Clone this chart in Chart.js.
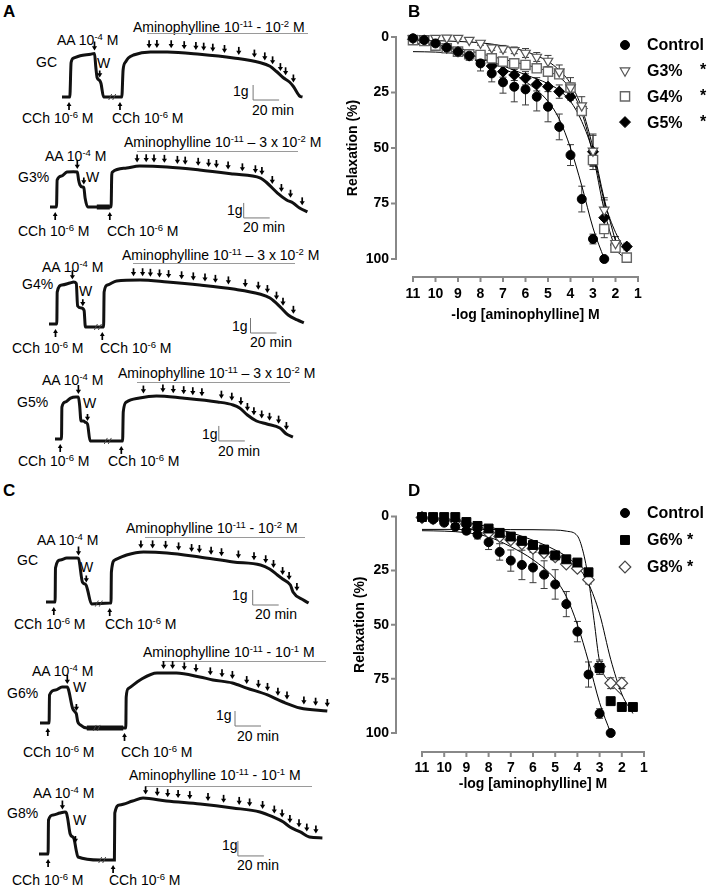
<!DOCTYPE html>
<html lang="en">
<head>
<meta charset="UTF-8" />
<title>Aminophylline relaxation</title>
<script src="https://cdn.jsdelivr.net/npm/chart.js"></script>
<style>
  body { margin:0; width:708px; height:888px; position:relative; background:#fff; overflow:hidden;
         font-family:"Liberation Sans", Arial, sans-serif; color:#000; }
  .t { position:absolute; white-space:nowrap; line-height:1; font-size:14px; }
  .t sup { font-size:0.68em; vertical-align:0; position:relative; top:-0.5em; }
  .big { font-weight:bold; font-size:17px; }
  .bar { position:absolute; height:0; border-top:1px solid #9a9a9a; }
  canvas { position:absolute; }
</style>
</head>
<body>
<canvas id="chartB" width="368" height="330" style="left:340px;top:0"></canvas>
<canvas id="chartD" width="368" height="330" style="left:340px;top:475px"></canvas>

<script>
// ---------- dose-response data (-log M, % relaxation, SEM) ----------
const doseLog = [11, 10.5, 10, 9.5, 9, 8.5, 8, 7.5, 7, 6.5, 6, 5.5, 5, 4.5, 4, 3.5, 3, 2.5, 2, 1.5];

const controlRelax = [0.6, 1.4, 2.9, 4.8, 6.6, 8.4, 11.9, 16.4, 20.4, 22.4, 23.6, 26.9, 31.4, 40.5, 53.2, 73, 91, 100];
const controlSem   = [0.5, 0.8, 1, 1.2, 1.5, 2, 3.4, 3.8, 4.9, 6.8, 7, 6.4, 6.8, 5.8, 4.7, 5.8, 2.2, 0.5];

const g3Relax = [0.6, 0.6, 0.5, 0.4, 0.5, 1.4, 2.7, 4.8, 5.3, 6, 7.2, 9, 10.8, 15.6, 22.8, 30.9, 51.3, 77.9, 92.9];
const g3Sem   = [0.5, 0.5, 0.5, 0.5, 0.5, 0.8, 1, 1.2, 1.5, 1.5, 2, 2, 2.5, 3, 4.5, 4, 7, 4.5, 3];
const g4Relax = [1.4, 1.8, 3.9, 5.1, 6.6, 7.8, 8.1, 9.6, 11.1, 11.9, 12.6, 14.1, 15.6, 16.8, 22.8, 33.3, 55.4, 86.5, 94.9, 99.4];
const g4Sem   = [0.5, 0.5, 0.8, 1, 1, 1, 1, 1, 1, 1, 1.2, 1.5, 1.5, 1.5, 2, 2, 2.5, 2, 2, 1];
const g5Relax = [1, 1.5, 2.9, 5, 6.6, 8.4, 10.4, 13.1, 15.6, 17.1, 18.6, 21.3, 22.4, 24.6, 26.9, 32.1, 51.7, 81.4, 93.7, 94.4];
const g5Sem   = [0.5, 0.5, 0.8, 1, 1.5, 2, 2.5, 2.5, 2.5, 2.5, 3, 3, 9, 3, 1.5, 1.5, 8, 9, 2, 1.5];

const g6Relax = [0.3, 0.3, 0.3, 0.3, 2.6, 4.4, 5.6, 7.6, 9.3, 11.3, 13.2, 15.3, 18, 19.8, 21.3, 25.8, 70, 85.3, 88, 88];
const g6Sem   = [0.5, 0.5, 0.5, 0.5, 0.8, 0.8, 1, 1, 1, 1, 1, 1, 1, 1, 1, 1.5, 3, 1.5, 1, 1];
const g8Relax = [0.5, 1, 1.5, 2, 3.5, 5.5, 7.5, 9.3, 10.8, 12.7, 14.8, 16.8, 18.7, 22, 24, 29.2, 69.3, 77, 77];
const g8Sem   = [0.5, 0.5, 0.5, 0.5, 0.5, 0.5, 1, 1, 1, 1, 1, 1, 1, 1, 1, 2, 3, 2.5, 2.5];

// fitted curves
const fitCtlX = [11, 10, 9, 8, 7, 6, 5, 4.5, 4, 3.5, 3, 2.5];
const fitCtlY = [6.6, 6.8, 7.5, 9.5, 14, 20, 29, 37, 50, 67, 86, 100];
const fitG3X = [11, 10, 9, 8, 7, 6, 5, 4.5, 4, 3.5, 3, 2.5, 2];
const fitG3Y = [1.5, 1.6, 2, 2.6, 4, 6.5, 11, 15, 21, 32, 50, 73, 92];
const fitG4X = [11, 10, 9, 8, 7, 6, 5, 4.5, 4, 3.5, 3, 2.5, 2, 1.5];
const fitG4Y = [3, 3.5, 5, 7.5, 10, 12.5, 15.5, 18, 23.5, 34, 53, 78, 95, 100];
const fitG5X = [11, 10, 9, 8, 7, 6, 5, 4.5, 4, 3.5, 3, 2.5, 2, 1.5];
const fitG5Y = [3, 4, 6, 9.5, 13, 17, 21, 24, 29, 38, 52, 74, 88, 97];
const fitG6X = [11, 10, 9, 8, 7, 6, 5, 4.5, 4, 3.5, 3, 2.5, 2, 1.5];
const fitG6Y = [0.5, 1.5, 2.8, 4.8, 7.5, 11, 15.5, 18.5, 23, 31, 45, 66, 82, 91];
const fitG8X = [11, 9, 7, 5, 4.5, 4, 3.75, 3.5, 3.25, 3, 2.5, 2];
const fitG8Y = [6, 6, 6.1, 6.3, 6.8, 9, 16, 29, 48, 67, 77, 82.5];

// ---------- isometric tension recordings (time in min, tension in g) ----------
const aGcTime    = [0, 6, 7, 9, 14, 22, 25, 26, 27, 29, 30, 32, 37, 45, 46, 47, 49, 51, 55, 68, 81, 106, 132, 152, 160, 165, 170, 175, 178, 183, 185];
const aGcTension = [0, 0, 2.3, 2.6, 2.75, 2.85, 2.9, 2.0, 1.3, 1.1, 0.9, 0, 0, 0, 0, 1.8, 2.35, 2.6, 2.8, 3.0, 3.0, 2.85, 2.6, 2.3, 2.05, 1.7, 1.3, 1.0, 0.7, 0.05, 0];
const aGcDoses   = [67, 73, 84, 94, 103, 109, 116, 125, 136, 148, 156, 162, 168, 172, 178];

const aG3Time    = [0, 5, 5.5, 9, 13, 18, 21, 22, 23, 25, 26, 27, 29, 33, 46, 47, 47.5, 48, 59, 69, 90, 115, 141, 162, 167, 175, 182, 187, 192, 198];
const aG3Tension = [0, 0, 1.8, 2.07, 2.33, 2.35, 2.33, 1.8, 1.47, 1.33, 1.3, 0.6, 0, 0, 0, 0, 2.13, 2.33, 2.6, 2.73, 2.67, 2.47, 2.2, 1.93, 1.6, 0.93, 0.47, 0.27, -0.07, -0.33];
const aG3Doses   = [67, 74, 80, 88, 98, 104, 114, 122, 128, 137, 148, 158, 163, 171, 178, 185, 194];

const aG4Time    = [0, 6, 6.3, 10, 16, 19, 21, 22, 25, 27, 28, 37, 42, 42.4, 45, 52, 70, 91, 116, 142, 162, 170, 178, 184, 191, 196];
const aG4Tension = [0, 0, 2.13, 2.6, 2.73, 2.8, 2.7, 1.2, 1.07, 0.9, -0.2, -0.2, -0.2, 2.13, 2.6, 2.87, 2.93, 2.8, 2.6, 2.33, 2.0, 1.73, 1.13, 0.6, 0.27, 0.07];
const aG4Doses   = [65, 72, 78, 85, 92, 102, 111, 120, 128, 138, 151, 161, 168, 175, 180, 188];

const aG5Time    = [0, 5, 5.3, 8, 12, 16, 18, 19, 20, 22, 23, 25, 27, 51, 52, 52.5, 55, 65, 78, 98, 125, 137, 142, 148, 155, 163, 173, 178, 183];
const aG5Tension = [0, 0, 2.13, 2.47, 2.73, 2.8, 2.8, 2.2, 1.2, 1.2, 1.13, 1.0, -0.13, -0.13, -0.13, 1.8, 2.47, 2.73, 2.87, 2.73, 2.47, 2.27, 2.07, 1.6, 1.2, 1.0, 0.73, 0.33, 0.13];
const aG5Doses   = [68, 83, 91, 99, 106, 113, 128, 136, 143, 148, 153, 159, 165, 172, 178];

const cGcTime    = [0, 7, 7.3, 11, 16, 24, 25, 28, 30, 31, 32, 35, 49, 50, 50.3, 53, 62, 75, 93, 118, 144, 165, 172, 178, 182, 188, 190, 198, 202];
const cGcTension = [0, 0, 2.27, 2.8, 2.93, 2.93, 2.9, 1.33, 1.2, 1.1, 0.8, -0.13, -0.07, -0.07, 2.0, 2.8, 3.13, 3.33, 3.27, 3.0, 2.67, 2.47, 2.2, 1.8, 1.53, 1.13, 0.67, 0.13, -0.07];
const cGcDoses   = [73, 82, 92, 102, 112, 118, 127, 135, 148, 160, 169, 175, 182, 187, 193];

const cG6Time    = [0, 7, 7.3, 12, 17, 21, 22, 25, 27, 28, 29, 31, 36, 66, 66.3, 68, 77, 90, 105, 123, 133, 148, 159, 175, 187, 200, 221];
const cG6Tension = [0, 0, 1.87, 2.2, 2.4, 2.4, 2.2, 1.0, 0.73, 0.6, 0.1, -0.13, -0.33, -0.33, 1.73, 2.3, 2.87, 3.33, 3.33, 3.07, 2.87, 2.67, 2.33, 1.87, 1.4, 1.0, 0.8];
const cG6Doses   = [95, 102, 111, 120, 131, 140, 148, 159, 168, 175, 183, 190, 203, 212, 221];

const cG8Time    = [0, 7, 7.3, 11, 16, 20, 21, 22, 24, 26, 27, 28.5, 30, 47, 57, 58, 58.3, 62, 72, 80, 98, 124, 149, 170, 180, 188, 193, 201, 208, 218];
const cG8Tension = [0, 0, 2.27, 2.6, 2.73, 2.8, 2.75, 2.4, 1.33, 1.13, 1.0, 0.3, -0.2, -0.4, -0.4, -0.4, 2.73, 3.27, 3.53, 3.73, 3.53, 3.33, 3.07, 2.8, 2.47, 2.13, 1.8, 1.47, 1.13, 1.07];
const cG8Doses   = [82, 91, 99, 107, 116, 130, 142, 154, 162, 172, 181, 187, 193, 200, 206, 213];

// ---------- layout ----------
const PX_MIN = 1.3;   // px per minute
const PX_G = 15;      // px per gram
const FONT = '"Liberation Sans", Arial, sans-serif';

const traces = [
  { t: aGcTime, g: aGcTension, doses: aGcDoses, x0: 62, yb: 97,  cch: [5.4, 44.6], aa: 25, w: 29, brk: 39, bar: [147, -0.2] },
  { t: aG3Time, g: aG3Tension, doses: aG3Doses, x0: 50, yb: 207, cch: [4, 46], aa: 21, w: 26, noise: [36, 46], bar: [149, -0.73] },
  { t: aG4Time, g: aG4Tension, doses: aG4Doses, x0: 49, yb: 324, cch: [5, 41], aa: 18, w: 26, brk: 38, bar: [155, -0.6] },
  { t: aG5Time, g: aG5Tension, doses: aG5Doses, x0: 55, yb: 439, cch: [4, 51], aa: 18, w: 25, brk: 41, bar: [126, -0.13] },
  { t: cGcTime, g: cGcTension, doses: cGcDoses, x0: 46, yb: 602, cch: [6, 49], aa: 25, w: 31, brk: 41, bar: [159, -0.2] },
  { t: cG6Time, g: cG6Tension, doses: cG6Doses, x0: 40, yb: 723, cch: [6, 65], aa: 21, w: 28, noise: [36, 64], brk: 44, bar: [150, -0.2] },
  { t: cG8Time, g: cG8Tension, doses: cG8Doses, x0: 39, yb: 854, cch: [7, 57], aa: 18, w: 28, brk: 49, bar: [153, -0.13] }
];

const amino2 = 'Aminophylline 10<sup>-11</sup> - 10<sup>-2</sup> M';
const amino3 = 'Aminophylline 10<sup>-11</sup> \u2013 3 x 10<sup>-2</sup> M';
const amino1 = 'Aminophylline 10<sup>-11</sup> - 10<sup>-1</sup> M';
const aa = 'AA 10<sup>-4</sup> M';
const cch = 'CCh 10<sup>-6</sup> M';

const labels = [
  ['A', 3, 11, 'big'], [amino2, 133, 27], [aa, 57, 40], ['GC', 36, 62], ['W', 97, 63],
  [cch, 22, 118], [cch, 112, 118], ['1g', 233, 91], ['20 min', 252, 110],
  [amino3, 124, 142], [aa, 45, 156], ['G3%', 18, 177], ['W', 86, 177],
  ['1g', 227, 210], ['20 min', 243, 227], [cch, 18, 231], [cch, 107, 231],
  [amino3, 122, 255], [aa, 42, 267], ['G4%', 22, 284], ['W', 79, 291],
  ['1g', 232, 326], ['20 min', 250, 342], [cch, 12, 348], [cch, 100, 348],
  [amino3, 118, 373], [aa, 42, 380], ['G5%', 17, 402], ['W', 83, 403],
  ['1g', 202, 434], ['20 min', 218, 451], [cch, 18, 461], [cch, 108, 461],
  ['C', 3, 490, 'big'], [amino2, 126, 528], [aa, 37, 540], ['GC', 17, 560], ['W', 80, 567],
  ['1g', 232, 595], ['20 min', 255, 614], [cch, 14, 624], [cch, 105, 624],
  [amino1, 143, 652], [aa, 32, 671], ['G6%', 7, 693], ['W', 73, 687],
  ['1g', 216, 715], ['20 min', 237, 736], [cch, 23, 752], [cch, 121, 752],
  [amino1, 129, 775], [aa, 33, 793], ['G8%', 7, 813], ['W', 73, 820],
  ['1g', 222, 845], ['20 min', 237, 865], [cch, 12, 880], [cch, 109, 880],
  ['B', 408, 11, 'big'], ['D', 408, 490, 'big']
];
// grey lines under the aminophylline labels: [left, right, top]
const doseLines = [[147, 308, 33], [137, 298, 151], [133, 295, 263], [137, 290, 382],
                   [145, 305, 537], [162, 326, 661], [145, 312, 786]];

labels.forEach(([html, x, cy, cls]) => {
  const d = document.createElement('div');
  d.className = 't' + (cls ? ' ' + cls : '');
  const size = cls === 'big' ? 17 : 14;
  d.style.left = x + 'px';
  d.style.top = (cy - 0.49 * size) + 'px';
  d.innerHTML = html;
  document.body.appendChild(d);
});
doseLines.forEach(([l, r, top]) => {
  const d = document.createElement('div');
  d.className = 'bar';
  d.style.left = l + 'px'; d.style.width = (r - l) + 'px'; d.style.top = top + 'px';
  document.body.appendChild(d);
});

// ---------- helpers ----------
function pts(xs, ys) { return ys.map((v, i) => ({ x: xs[i], y: v })); }

function interp(ts, gs, t) {
  for (let i = 1; i < ts.length; i++) {
    if (t <= ts[i]) {
      const f = (t - ts[i - 1]) / (ts[i] - ts[i - 1] || 1);
      return gs[i - 1] + f * (gs[i] - gs[i - 1]);
    }
  }
  return gs[gs.length - 1];
}

// small bold arrows as in the recordings
function arrowDown(ctx, x, tip, len) {
  ctx.beginPath(); ctx.moveTo(x, tip - len); ctx.lineTo(x, tip - 3); ctx.stroke();
  ctx.beginPath(); ctx.moveTo(x - 2.6, tip - 4.2); ctx.lineTo(x + 2.6, tip - 4.2); ctx.lineTo(x, tip); ctx.closePath(); ctx.fill();
}
function arrowUp(ctx, x, tip, len) {
  ctx.beginPath(); ctx.moveTo(x, tip + len); ctx.lineTo(x, tip + 3); ctx.stroke();
  ctx.beginPath(); ctx.moveTo(x - 2.4, tip + 4); ctx.lineTo(x + 2.4, tip + 4); ctx.lineTo(x, tip); ctx.closePath(); ctx.fill();
}

function drawTraceMarks(chart, tr) {
  const { ctx, scales: { x, y } } = chart;
  const X = t => x.getPixelForValue(t);
  const Y = g => y.getPixelForValue(g);
  const lev = t => Y(interp(tr.t, tr.g, t));
  ctx.save();
  ctx.fillStyle = '#000'; ctx.strokeStyle = '#000'; ctx.lineWidth = 1.7;
  tr.doses.forEach(t => arrowDown(ctx, X(t), lev(t) - 4, 8));
  arrowDown(ctx, X(tr.aa), lev(tr.aa) - 3, 9);
  arrowDown(ctx, X(tr.w), lev(tr.w) - 3, 7);
  tr.cch.forEach(t => arrowUp(ctx, X(t), lev(t) + 5, 8));
  if (tr.noise) {
    ctx.save(); ctx.lineWidth = 5; ctx.strokeStyle = '#111';
    ctx.beginPath(); ctx.moveTo(X(tr.noise[0]), lev(tr.noise[0])); ctx.lineTo(X(tr.noise[1]), lev(tr.noise[1])); ctx.stroke();
    ctx.restore();
  }
  if (tr.brk != null) {
    const bx = X(tr.brk), by = lev(tr.brk);
    ctx.save(); ctx.lineWidth = 1; ctx.strokeStyle = '#444';
    ctx.beginPath();
    ctx.moveTo(bx - 4, by + 3); ctx.lineTo(bx - 1, by - 3);
    ctx.moveTo(bx, by + 3); ctx.lineTo(bx + 3, by - 3);
    ctx.stroke(); ctx.restore();
  }
  const [st, sg] = tr.bar;
  ctx.strokeStyle = '#777'; ctx.lineWidth = 1;
  ctx.beginPath();
  ctx.moveTo(X(st), Y(sg + 1)); ctx.lineTo(X(st), Y(sg)); ctx.lineTo(X(st + 20), Y(sg));
  ctx.stroke();
  ctx.restore();
}

function makeTrace(tr) {
  const c = document.createElement('canvas');
  c.width = 310; c.height = 95;
  c.style.left = (tr.x0 - 10) + 'px';
  c.style.top = (tr.yb - 70) + 'px';
  document.body.appendChild(c);
  new Chart(c, {
    type: 'line',
    data: { datasets: [{ data: pts(tr.t, tr.g), borderColor: '#111', borderWidth: 3, pointRadius: 0,
                         cubicInterpolationMode: 'monotone', clip: false }] },
    options: {
      responsive: false, animation: false, events: [],
      layout: { padding: 0 },
      plugins: { legend: { display: false }, tooltip: { enabled: false } },
      scales: {
        x: { type: 'linear', display: false, min: -10 / PX_MIN, max: 300 / PX_MIN },
        y: { type: 'linear', display: false, min: -25 / PX_G, max: 70 / PX_G }
      }
    },
    plugins: [{ id: 'traceMarks', afterDatasetsDraw(chart) { drawTraceMarks(chart, tr); } }]
  });
}
traces.forEach(makeTrace);

// ---------- dose-response charts ----------
function drawMarker(ctx, m, x, y) {
  ctx.save();
  ctx.fillStyle = m.fill; ctx.strokeStyle = m.stroke; ctx.lineWidth = m.lw;
  ctx.beginPath();
  const r = m.r;
  if (m.shape === 'circle') ctx.arc(x, y, r, 0, Math.PI * 2);
  else if (m.shape === 'triDown') { ctx.moveTo(x, y + r); ctx.lineTo(x - 0.866 * r, y - 0.5 * r); ctx.lineTo(x + 0.866 * r, y - 0.5 * r); ctx.closePath(); }
  else if (m.shape === 'square') { const s = r * Math.SQRT1_2; ctx.rect(x - s, y - s, 2 * s, 2 * s); }
  else { ctx.moveTo(x, y - r); ctx.lineTo(x + r, y); ctx.lineTo(x, y + r); ctx.lineTo(x - r, y); ctx.closePath(); }
  ctx.fill(); ctx.stroke();
  ctx.restore();
}

const mControl = { shape: 'circle', r: 4.5, fill: '#000', stroke: '#000', lw: 1 };
const mG3 = { shape: 'triDown', r: 5.5, fill: '#fff', stroke: '#555', lw: 1.2 };
const mG4 = { shape: 'square', r: 6.5, fill: '#fff', stroke: '#666', lw: 1.4 };
const mG5 = { shape: 'diamond', r: 5.5, fill: '#000', stroke: '#000', lw: 1 };
const mG6 = { shape: 'square', r: 6.3, fill: '#000', stroke: '#000', lw: 1 };
const mG8 = { shape: 'diamond', r: 5.8, fill: '#fff', stroke: '#444', lw: 1.2 };
const styleMap = { circle: 'circle', triDown: 'triangle', square: 'rect', diamond: 'rectRot' };

function markerSet(vals, sem, m) {
  return {
    data: pts(doseLog, vals), sem, showLine: false, clip: false, order: 1,
    pointStyle: styleMap[m.shape], pointRotation: m.shape === 'triDown' ? 180 : 0,
    pointRadius: m.r, pointBackgroundColor: m.fill, pointBorderColor: m.stroke, pointBorderWidth: m.lw
  };
}
function fitSet(xs, ys) {
  return { data: pts(xs, ys), showLine: true, pointRadius: 0, borderColor: '#000', borderWidth: 1,
           cubicInterpolationMode: 'monotone', clip: false, order: 5 };
}

const errorBars = {
  id: 'errorBars',
  beforeDatasetsDraw(chart) {
    const { ctx, scales: { x, y } } = chart;
    ctx.save(); ctx.strokeStyle = '#3a3a3a'; ctx.lineWidth = 1;
    chart.data.datasets.forEach(ds => {
      if (!ds.sem) return;
      ds.data.forEach((p, i) => {
        const e = ds.sem[i];
        if (!e) return;
        const px = x.getPixelForValue(p.x), y1 = y.getPixelForValue(p.y - e), y2 = y.getPixelForValue(p.y + e);
        ctx.beginPath();
        ctx.moveTo(px, y1); ctx.lineTo(px, y2);
        ctx.moveTo(px - 3.5, y1); ctx.lineTo(px + 3.5, y1);
        ctx.moveTo(px - 3.5, y2); ctx.lineTo(px + 3.5, y2);
        ctx.stroke();
      });
    });
    ctx.restore();
  }
};

function offsetAxes(gapX, gapY) {
  return {
    id: 'offsetAxes',
    afterDraw(chart) {
      const { ctx, chartArea: a, scales: { x, y } } = chart;
      const ax = a.left - gapX, ay = a.bottom + gapY;
      ctx.save(); ctx.strokeStyle = '#888'; ctx.lineWidth = 2;
      ctx.beginPath();
      ctx.moveTo(ax, y.getPixelForValue(0) - 1); ctx.lineTo(ax, y.getPixelForValue(100) + 1);
      y.ticks.forEach(t => { const py = y.getPixelForValue(t.value); ctx.moveTo(ax, py); ctx.lineTo(ax - 5, py); });
      ctx.moveTo(x.getPixelForValue(11) - 1, ay); ctx.lineTo(x.getPixelForValue(1) + 1, ay);
      x.ticks.forEach(t => { const px = x.getPixelForValue(t.value); ctx.moveTo(px, ay); ctx.lineTo(px, ay + 5); });
      ctx.stroke(); ctx.restore();
    }
  };
}

function sideLegend(items, mx, tx, sx, y0, dy) {
  return {
    id: 'sideLegend',
    afterDraw(chart) {
      const ctx = chart.ctx;
      ctx.save();
      ctx.font = 'bold 16px ' + FONT;
      ctx.textBaseline = 'middle';
      items.forEach((it, i) => {
        const y = y0 + i * dy;
        drawMarker(ctx, it.m, mx, y);
        ctx.fillStyle = '#000';
        ctx.fillText(it.text, tx, y + 1);
        if (it.star) ctx.fillText('*', sx, y);
      });
      ctx.restore();
    }
  };
}

function doseChart(id, datasets, L) {
  const tickFont = { family: FONT, size: 14, weight: 'bold' };
  return new Chart(document.getElementById(id), {
    type: 'scatter',
    data: { datasets },
    options: {
      responsive: false, animation: false, events: [],
      layout: { padding: { top: L.top, right: L.right, left: 0, bottom: 0 } },
      plugins: { legend: { display: false }, tooltip: { enabled: false } },
      scales: {
        x: {
          type: 'linear', min: 1, max: 11, reverse: true,
          grid: { display: false, drawTicks: false }, border: { display: false },
          ticks: { stepSize: 1, padding: L.xPad, font: tickFont, color: '#000' },
          title: { display: true, text: '-log [aminophylline] M', font: tickFont, color: '#000', padding: { top: 0, bottom: L.xTitle } },
          afterFit(s) { s.height = L.xh; }
        },
        y: {
          type: 'linear', min: 0, max: 100, reverse: true,
          grid: { display: false, drawTicks: false }, border: { display: false },
          ticks: { stepSize: 25, padding: L.yPad, font: tickFont, color: '#000' },
          title: { display: true, text: 'Relaxation (%)', font: tickFont, color: '#000', padding: { top: L.yTitle, bottom: 0 } },
          afterFit(s) { s.width = L.yw; }
        }
      }
    },
    plugins: [errorBars, offsetAxes(L.gapX, L.gapY), sideLegend(L.legend, 285, 307, 360, L.legY, L.legDy)]
  });
}

doseChart('chartB', [
  markerSet(controlRelax, controlSem, mControl),
  markerSet(g3Relax, g3Sem, mG3),
  markerSet(g4Relax, g4Sem, mG4),
  markerSet(g5Relax, g5Sem, mG5),
  fitSet(fitCtlX, fitCtlY), fitSet(fitG3X, fitG3Y), fitSet(fitG4X, fitG4Y), fitSet(fitG5X, fitG5Y)
], {
  top: 37, right: 70, yw: 73, xh: 71, xPad: 27, yPad: 24, xTitle: 6, yTitle: 5, gapX: 17, gapY: 18,
  legY: 45, legDy: 25.7,
  legend: [{ m: mControl, text: 'Control' }, { m: mG3, text: 'G3%', star: true },
           { m: mG4, text: 'G4%', star: true }, { m: mG5, text: 'G5%', star: true }]
});

doseChart('chartD', [
  markerSet(controlRelax, controlSem, mControl),
  markerSet(g6Relax, g6Sem, mG6),
  markerSet(g8Relax, g8Sem, mG8),
  fitSet(fitCtlX, fitCtlY), fitSet(fitG6X, fitG6Y), fitSet(fitG8X, fitG8Y)
], {
  top: 36, right: 64, yw: 82, xh: 72, xPad: 27, yPad: 33, xTitle: 12, yTitle: 12, gapX: 26, gapY: 19,
  legY: 38, legDy: 27,
  legend: [{ m: mControl, text: 'Control' }, { m: mG6, text: 'G6% *' }, { m: mG8, text: 'G8% *' }]
});
</script>
</body>
</html>
